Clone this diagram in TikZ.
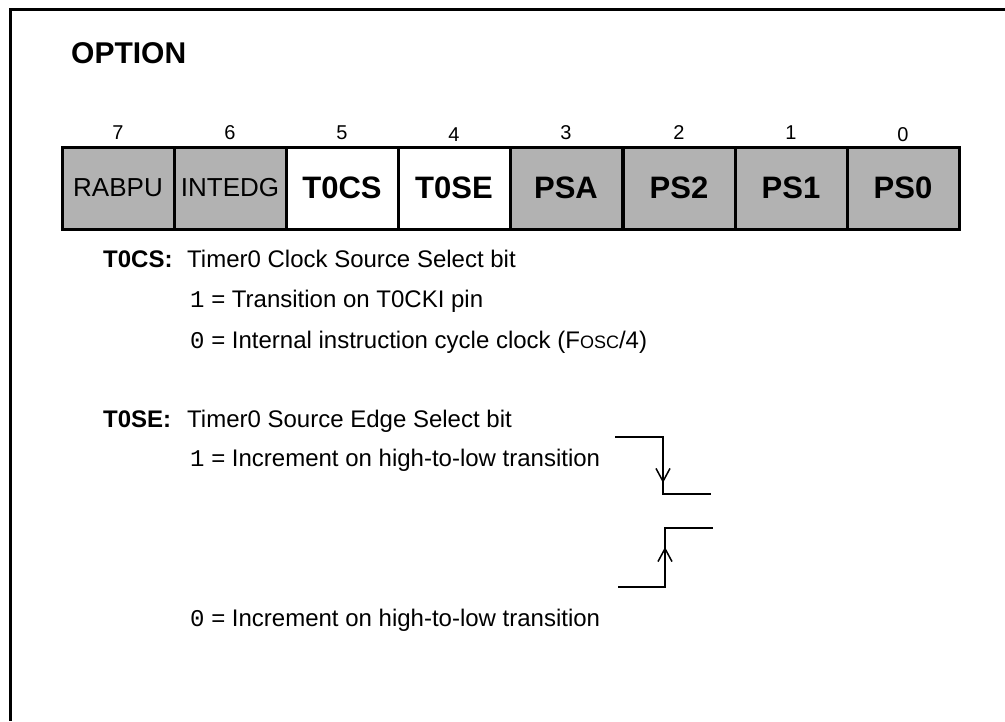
\documentclass[tikz,border=0pt]{standalone}
\usepackage{fontspec}
\setmainfont{Liberation Sans}
\setmonofont{Liberation Mono}
\usetikzlibrary{arrows.meta}
\begin{document}
\begin{tikzpicture}[x=1pt,y=-1pt,
    bitcell/.style={draw,line width=3pt,minimum width=112pt,minimum height=82pt,inner sep=0pt},
    graycell/.style={bitcell,fill=black!30},
    bitnum/.style={inner sep=0pt,font=\fontsize{20}{20}\selectfont},
    desc/.style={anchor=base west,inner sep=0pt,font=\fontsize{24}{24}\selectfont},
    field/.style={desc,font=\fontsize{24}{24}\selectfont\bfseries},
    wave/.style={line width=2.5pt},
    edgearrow/.style={line width=2.5pt,-{Straight Barb[length=13pt,width=14pt,line width=1.5pt]}}]
  \useasboundingbox (0,0) rectangle (1005,721);
  \draw[line width=3pt] (1005,9) -- (10.5,9) -- (10.5,721);
  \node[anchor=base west,inner sep=0pt,font=\fontsize{30}{30}\selectfont\bfseries] (opt) at (71,63) {OPTION};
  % bit numbers
  \node[bitnum] (n7) at (118,133) {7};
  \node[bitnum] (n6) at (230,133) {6};
  \node[bitnum] (n5) at (342,133) {5};
  \node[bitnum] (n4) at (454,135) {4};
  \node[bitnum] (n3) at (566,133) {3};
  \node[bitnum] (n2) at (679,133) {2};
  \node[bitnum] (n1) at (791,133) {1};
  \node[bitnum] (n0) at (903,135) {0};
  % register cells
  \node[graycell,font=\fontsize{26}{26}\selectfont] (rabpu) at (118,188) {RABPU};
  \node[graycell,font=\fontsize{26}{26}\selectfont] (intedg) at (230,188) {INTEDG};
  \node[bitcell,font=\fontsize{31}{31}\selectfont\bfseries] (t0cs) at (342,188) {T0CS};
  \node[bitcell,font=\fontsize{31}{31}\selectfont\bfseries] (t0se) at (454,188) {T0SE};
  \node[graycell,font=\fontsize{31}{31}\selectfont\bfseries] (psa) at (566,188) {PSA};
  \node[graycell,font=\fontsize{31}{31}\selectfont\bfseries] (ps2) at (679,188) {PS2};
  \node[graycell,font=\fontsize{31}{31}\selectfont\bfseries] (ps1) at (791,188) {PS1};
  \node[graycell,font=\fontsize{31}{31}\selectfont\bfseries] (ps0) at (903,188) {PS0};
  % T0CS description
  \node[field] (t0cslbl) at (103,267) {T0CS:};
  \node[desc] (t0csdesc) at (187,267) {Timer0 Clock Source Select bit};
  \node[desc] (t0csone) at (190,307) {{\ttfamily 1} = Transition on T0CKI pin};
  \node[desc] (t0cszero) at (190,348) {{\ttfamily 0} = Internal instruction cycle clock (F{\fontsize{18}{18}\selectfont OSC}/4)};
  % T0SE description
  \node[field] (t0selbl) at (103,427) {T0SE:};
  \node[desc] (t0sedesc) at (187,427) {Timer0 Source Edge Select bit};
  \node[desc] (t0seone) at (190,466) {{\ttfamily 1} = Increment on high-to-low transition};
  \node[desc] (t0sezero) at (190,626) {{\ttfamily 0} = Increment on high-to-low transition};
  % falling edge
  \coordinate (fallhi) at (615,437);
  \coordinate (falltop) at (663,437);
  \coordinate (fallbot) at (663,494);
  \coordinate (falllo) at (711,494);
  \coordinate (falltip) at (663,483);
  \draw[wave] (fallhi) -- (falltop) -- (fallbot) -- (falllo);
  \draw[edgearrow] (falltop) -- (falltip);
  % rising edge
  \coordinate (riselo) at (618,587);
  \coordinate (risebot) at (665,587);
  \coordinate (risetop) at (665,528);
  \coordinate (risehi) at (713,528);
  \coordinate (risetip) at (665,547);
  \draw[wave] (riselo) -- (risebot) -- (risetop) -- (risehi);
  \draw[edgearrow] (risebot) -- (risetip);
\end{tikzpicture}
\end{document}
